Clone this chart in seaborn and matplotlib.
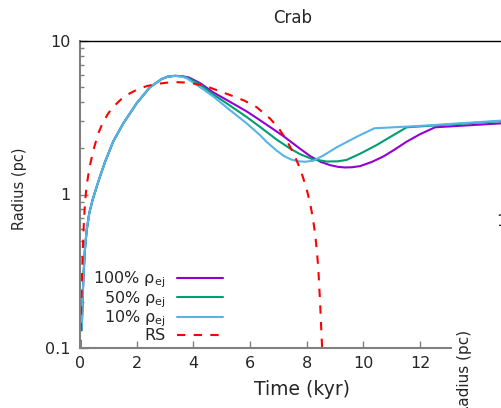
import matplotlib
matplotlib.use("Agg")
import matplotlib.pyplot as plt
import seaborn as sns
import pandas as pd
from matplotlib.ticker import FixedLocator, FixedFormatter, NullFormatter

sns.set_style("ticks")
plt.rcParams['font.family'] = ['DejaVu Sans']

# ---- data ----
t_10 = [0.06, 0.09, 0.116, 0.17, 0.236, 0.33, 0.45, 0.58, 0.70, 0.883, 1.175, 1.53, 2.0, 2.47,
        2.88, 3.1, 3.35, 3.6, 3.77, 4.12, 4.71, 5.29, 5.88, 6.35, 6.59, 6.9, 7.18, 7.45,
        7.7, 7.95, 8.24, 8.6, 9.06, 9.77, 10.39, 11.88, 14.9]
r_10 = [0.131, 0.2, 0.277, 0.43, 0.587, 0.76, 0.93, 1.11, 1.30, 1.63, 2.22, 2.91, 3.93, 5.0,
        5.65, 5.86, 5.93, 5.86, 5.71, 5.18, 4.34, 3.55, 2.91, 2.44, 2.2, 1.96, 1.79, 1.69,
        1.645, 1.635, 1.66, 1.8, 2.03, 2.38, 2.70, 2.79, 3.03]

t_50 = [0.06, 0.09, 0.116, 0.17, 0.236, 0.33, 0.45, 0.58, 0.70, 0.883, 1.175, 1.53, 2.0, 2.47,
        2.88, 3.1, 3.35, 3.6, 3.8, 4.2, 4.71, 5.29, 5.88, 6.35, 6.94, 7.4, 7.77, 8.2,
        8.71, 9.1, 9.41, 9.9, 10.47, 11.0, 11.53, 14.9]
r_50 = [0.131, 0.2, 0.277, 0.43, 0.587, 0.76, 0.93, 1.11, 1.30, 1.63, 2.22, 2.91, 3.93, 5.0,
        5.65, 5.86, 5.93, 5.88, 5.76, 5.26, 4.48, 3.80, 3.20, 2.76, 2.28, 2.0, 1.83, 1.70,
        1.64, 1.645, 1.68, 1.85, 2.10, 2.40, 2.74, 3.01]

t_100 = [0.06, 0.09, 0.116, 0.17, 0.236, 0.33, 0.45, 0.58, 0.70, 0.883, 1.175, 1.53, 2.0, 2.47,
         2.88, 3.1, 3.35, 3.6, 3.85, 4.25, 4.71, 5.29, 5.88, 6.35, 6.8, 7.18, 7.7, 8.12,
         8.5, 8.82, 9.1, 9.35, 9.6, 9.88, 10.3, 10.71, 11.1, 11.53, 12.0, 12.53, 14.9]
r_100 = [0.131, 0.2, 0.277, 0.43, 0.587, 0.76, 0.93, 1.11, 1.30, 1.63, 2.22, 2.91, 3.93, 5.0,
         5.65, 5.86, 5.93, 5.90, 5.78, 5.3, 4.62, 4.02, 3.48, 3.05, 2.68, 2.40, 2.03, 1.78,
         1.63, 1.555, 1.515, 1.50, 1.505, 1.53, 1.63, 1.77, 1.96, 2.21, 2.47, 2.74, 2.91]

t_rs = [0.02, 0.04, 0.06, 0.095, 0.13, 0.176, 0.23, 0.29, 0.353, 0.44, 0.53, 0.66, 0.82, 1.0,
        1.18, 1.45, 1.76, 2.05, 2.35, 2.7, 3.06, 3.45, 3.88, 4.47, 5.29, 5.8, 6.24, 6.71,
        7.0, 7.18, 7.37, 7.53, 7.7, 7.83, 7.98, 8.12, 8.22, 8.30, 8.36, 8.41, 8.47, 8.53, 8.56]
r_rs = [0.1, 0.17, 0.25, 0.42, 0.62, 0.88, 1.12, 1.33, 1.55, 1.84, 2.12, 2.54, 2.98, 3.38,
        3.73, 4.17, 4.56, 4.86, 5.08, 5.25, 5.35, 5.39, 5.35, 5.06, 4.45, 4.09, 3.70, 3.12,
        2.72, 2.43, 2.12, 1.86, 1.58, 1.36, 1.12, 0.88, 0.70, 0.55, 0.43, 0.33, 0.205, 0.115, 0.09]

labels = [r"100% ρ$_{\mathregular{ej}}$", r"50% ρ$_{\mathregular{ej}}$",
          r"10% ρ$_{\mathregular{ej}}$", "RS"]
colors = ["#9400D3", "#009E73", "#56B4E9", "#FF0000"]

x_ticks = [0, 2, 4, 6, 8, 10, 12]
y_ticks = [0.1, 1, 10]
y_ticklabels = ["0.1", "1", "10"]

# ---- figure ----
fig = plt.figure(figsize=(5.02, 4.08), dpi=100)
ax = fig.add_axes([80 / 502, 60 / 408, 425 / 502, 307 / 408])

series = [(t_100, r_100), (t_50, r_50), (t_10, r_10), (t_rs, r_rs)]
for (t, r), lab, col in zip(series, labels, colors):
    df = pd.DataFrame({"t": t, "r": r})
    dashed = lab == "RS"
    sns.lineplot(data=df, x="t", y="r", ax=ax, color=col, lw=1.5, label=lab,
                 estimator=None, sort=False, legend=False,
                 linestyle=(0, (4, 4)) if dashed else "-")

ax.set_yscale("log")
ax.set_xlim(0, 15)
ax.set_ylim(0.1, 10)

ax.yaxis.set_major_locator(FixedLocator(y_ticks))
ax.yaxis.set_major_formatter(FixedFormatter(y_ticklabels))
ax.yaxis.set_minor_locator(FixedLocator([m * d for d in (0.1, 1) for m in range(2, 10)]))
ax.yaxis.set_minor_formatter(NullFormatter())
ax.set_xticks(x_ticks)
ax.set_xticklabels([str(v) for v in x_ticks])

ax.tick_params(axis="y", which="major", direction="in", length=6, width=1,
               color="#808080", labelsize=11.5, pad=7)
ax.tick_params(axis="y", which="minor", direction="in", length=3, width=1, color="#808080")
ax.tick_params(axis="x", which="major", direction="in", length=5, width=1,
               color="#808080", labelsize=11.5, pad=6)

for s in ("left", "bottom"):
    ax.spines[s].set_color("#808080")
    ax.spines[s].set_linewidth(1.5)
ax.spines["bottom"].set_bounds(0, 13.1)
ax.spines["top"].set_color("black")
ax.spines["top"].set_linewidth(1.0)
ax.spines["right"].set_visible(False)

ax.set_title("Crab", fontsize=12, pad=13)
ax.set_xlabel("Time (kyr)", fontsize=13.5)
ax.xaxis.set_label_coords((301.7 - 80) / 425, -0.103)
ax.xaxis.label.set_va("top")
ax.set_ylabel("Radius (pc)", fontsize=10.5)
ax.yaxis.set_label_coords(-0.124, 0.518)

handles = ax.get_lines()[:4]
leg = ax.legend(handles, labels, loc="lower right",
                bbox_to_anchor=((223 - 80) / 425, 0.015),
                frameon=False, markerfirst=False, handlelength=2.9,
                handletextpad=0.7, labelspacing=-0.06, fontsize=11.5,
                borderpad=0, borderaxespad=0)

# pieces of the neighbouring panel visible at the right edge
fig.text(496 / 502, 1 - 222 / 408, "1", fontsize=11.5, ha="left", va="center")
fig.text(465 / 502, 1 - 330 / 408, "Radius (pc)", fontsize=11, rotation=90,
         ha="center", va="top")

fig.savefig("out.png", dpi=100)
